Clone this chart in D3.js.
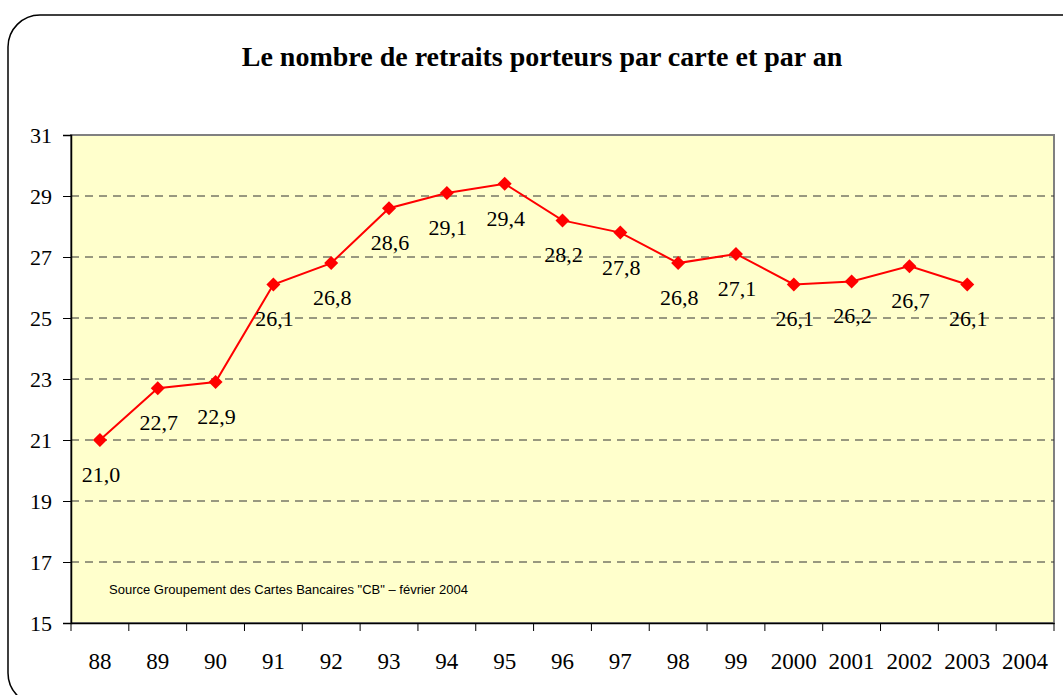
<!DOCTYPE html>
<html><head><meta charset="utf-8">
<script src="https://cdn.jsdelivr.net/npm/d3@7"></script>
<style>body{margin:0;background:#fff;}svg{display:block;}</style>
</head><body>
<svg id="c" width="1063" height="695"></svg>
<script>
const categories = ["88","89","90","91","92","93","94","95","96","97","98","99","2000","2001","2002","2003","2004"];
const values = [21.0,22.7,22.9,26.1,26.8,28.6,29.1,29.4,28.2,27.8,26.8,27.1,26.1,26.2,26.7,26.1];
const valueLabels = ["21,0","22,7","22,9","26,1","26,8","28,6","29,1","29,4","28,2","27,8","26,8","27,1","26,1","26,2","26,7","26,1"];
const yTicks = [15,17,19,21,23,25,27,29,31];
const title = "Le nombre de retraits porteurs par carte et par an";
const source = "Source Groupement des Cartes Bancaires \"CB\" \u2013 février 2004";

const svg = d3.select("#c");
const L = 71, R = 1054, T = 135, B = 623;
const serif = "'Liberation Serif','Times New Roman',serif";

svg.append("rect").attr("x",8).attr("y",15).attr("width",1085).attr("height",690)
  .attr("rx",32).attr("fill","#fff").attr("stroke","#000").attr("stroke-width",1.5);

svg.append("text").attr("x",542).attr("y",66).attr("text-anchor","middle")
  .attr("font-family",serif).attr("font-weight","bold")
  .attr("font-size",28).attr("fill","#000").text(title);

const x = d3.scaleBand().domain(categories).range([L,R]).padding(0);
const y = d3.scaleLinear().domain([15,31]).range([B,T]);

svg.append("rect").attr("x",L).attr("y",T).attr("width",R-L).attr("height",B-T)
  .attr("fill","#FFFFCC").attr("stroke","#808080").attr("stroke-width",2);

// grid
svg.append("g").selectAll("line").data(yTicks.filter(d=>d>15&&d<31)).join("line")
  .attr("x1",L).attr("x2",R).attr("y1",d=>y(d)).attr("y2",d=>y(d))
  .attr("stroke","#333").attr("stroke-width",1).attr("stroke-dasharray","8,6");

// y axis
const ya = svg.append("g").attr("transform",`translate(${L},0)`)
  .call(d3.axisLeft(y).tickValues(yTicks).tickSize(8).tickPadding(11).tickFormat(d3.format("d")));
ya.select(".domain").attr("stroke","#000").attr("stroke-width",1.5);
ya.selectAll(".tick line").attr("stroke","#000");
ya.selectAll("text").attr("font-family",serif).attr("font-size",22).attr("fill","#000");

// x axis
const xa = svg.append("g").attr("transform",`translate(0,${B})`)
  .call(d3.axisBottom(x).tickSize(0).tickPadding(30));
xa.select(".domain").attr("stroke","#000").attr("stroke-width",1.5);
xa.selectAll("text").attr("font-family",serif).attr("font-size",23).attr("fill","#000");
xa.selectAll(".bt").data(categories.map(c=>x(c)).concat([R])).join("line")
  .attr("x1",d=>d).attr("x2",d=>d).attr("y1",0).attr("y2",8).attr("stroke","#000");

// source
svg.append("text").attr("x",109).attr("y",594)
  .attr("font-family","'Liberation Sans',Arial,sans-serif").attr("font-size",13)
  .attr("fill","#000").text(source);

const pts = values.map((v,i)=>({c:categories[i],v,lab:valueLabels[i]}));
const cx = d=>x(d.c)+x.bandwidth()/2;

svg.append("path").datum(pts)
  .attr("d",d3.line().x(cx).y(d=>y(d.v)))
  .attr("fill","none").attr("stroke","#FF0000").attr("stroke-width",2);

svg.append("g").selectAll("path").data(pts).join("path")
  .attr("d",d3.symbol().type(d3.symbolDiamond2).size(125))
  .attr("transform",d=>`translate(${cx(d)},${y(d.v)})`)
  .attr("fill","#FF0000");

svg.append("g").selectAll("text").data(pts).join("text")
  .attr("x",d=>cx(d)+1).attr("y",d=>y(d.v)+42)
  .attr("text-anchor","middle")
  .attr("font-family",serif).attr("font-size",22).attr("fill","#000").text(d=>d.lab);
</script>
</body></html>
